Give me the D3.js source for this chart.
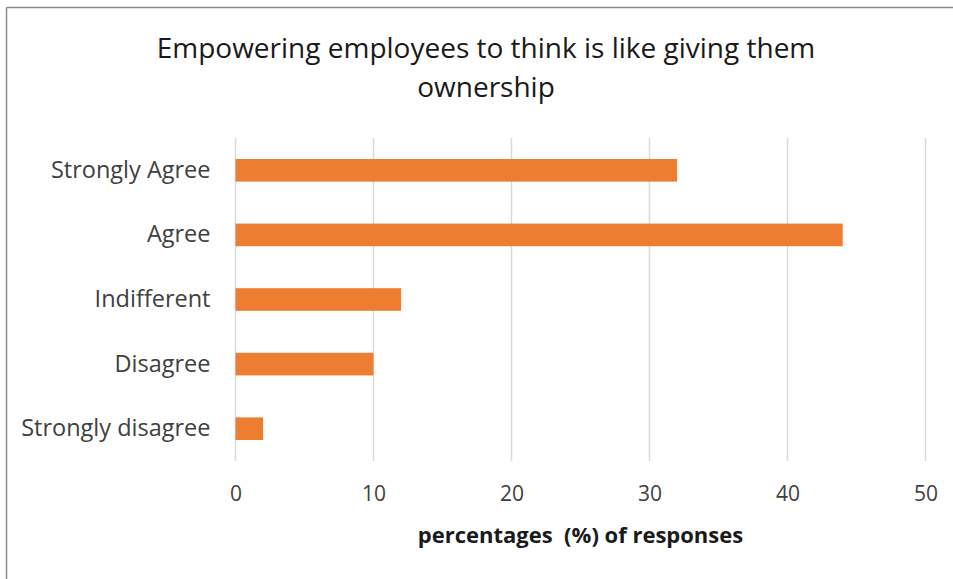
<!DOCTYPE html>
<html>
<head>
<meta charset="utf-8">
<script src="https://cdn.jsdelivr.net/npm/d3@7"></script>
<style>
  html, body { margin: 0; padding: 0; background: #fff; }
  svg { display: block; }
  text { white-space: pre; }
</style>
</head>
<body>
<svg id="chart" width="953" height="579"></svg>
<script>
// Survey responses: "Empowering employees to think is like giving them ownership"
const categories = ["Strongly Agree", "Agree", "Indifferent", "Disagree", "Strongly disagree"];
const percentages = [32, 44, 12, 10, 2];
const xTicks = [0, 10, 20, 30, 40, 50];
const titleLines = ["Empowering employees to think is like giving them", "ownership"];
const xAxisTitle = "percentages  (%) of responses";

const fontFamily = "'Open Sans', Lato, 'Liberation Sans', sans-serif";
const svg = d3.select("#chart");

// Frame lines (top and left edges of the chart area)
svg.append("line").attr("x1", 6.5).attr("x2", 953).attr("y1", 7.5).attr("y2", 7.5)
  .attr("stroke", "#8c8c8c").attr("stroke-width", 1.5);
svg.append("line").attr("x1", 6.5).attr("x2", 6.5).attr("y1", 7.5).attr("y2", 579)
  .attr("stroke", "#8c8c8c").attr("stroke-width", 1.5);

const plot = { left: 235.5, right: 925.5, top: 138, bottom: 461 };

const x = d3.scaleLinear().domain([0, 50]).range([plot.left, plot.right]);
const y = d3.scaleBand().domain(categories).range([plot.top, plot.bottom]).paddingInner(0.65).paddingOuter(0.325);

// Vertical gridlines
svg.append("g")
  .selectAll("line")
  .data(xTicks)
  .join("line")
  .attr("x1", d => x(d)).attr("x2", d => x(d))
  .attr("y1", plot.top).attr("y2", plot.bottom)
  .attr("stroke", "#d9d9d9").attr("stroke-width", 1.5);

// Bars
svg.append("g")
  .selectAll("rect")
  .data(categories)
  .join("rect")
  .attr("x", x(0))
  .attr("y", d => y(d))
  .attr("width", (d, i) => x(percentages[i]) - x(0))
  .attr("height", y.bandwidth())
  .attr("fill", "#ed7d31");

// Bottom axis tick labels
const xAxis = d3.axisBottom(x).tickValues(xTicks).tickSize(0).tickPadding(0).tickFormat(d3.format("d"));
const gx = svg.append("g").attr("transform", `translate(0, ${plot.bottom + 25})`).call(xAxis);
gx.select(".domain").remove();
gx.selectAll("text")
  .attr("font-family", fontFamily).attr("font-size", 21).attr("fill", "#404040");

// Left axis category labels
const yAxis = d3.axisLeft(y).tickSize(0).tickPadding(0);
const gy = svg.append("g").attr("transform", `translate(${plot.left - 25}, 0)`).call(yAxis);
gy.select(".domain").remove();
gy.selectAll("text")
  .attr("font-family", fontFamily).attr("font-size", 23.5).attr("fill", "#404040");

// Chart title
svg.append("g")
  .selectAll("text")
  .data(titleLines)
  .join("text")
  .attr("x", 486)
  .attr("y", (d, i) => 58 + i * 39)
  .attr("text-anchor", "middle")
  .attr("font-family", fontFamily)
  .attr("font-size", 28)
  .attr("fill", "#1a1a1a")
  .text(d => d);

// Axis title
svg.append("text")
  .attr("x", 580.5)
  .attr("y", 543)
  .attr("text-anchor", "middle")
  .attr("font-family", fontFamily)
  .attr("font-size", 22)
  .attr("font-weight", "bold")
  .attr("fill", "#1a1a1a")
  .text(xAxisTitle);
</script>
</body>
</html>
